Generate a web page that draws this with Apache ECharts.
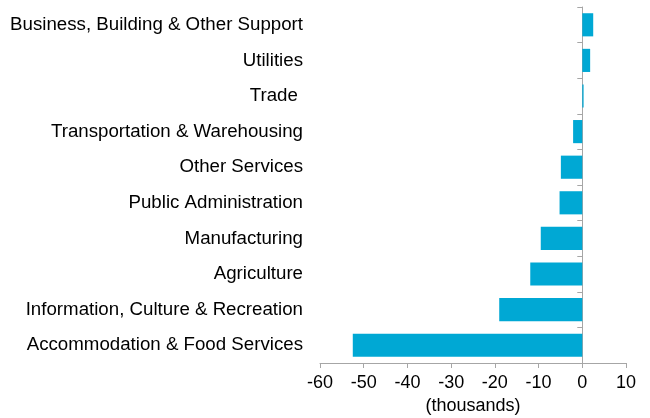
<!DOCTYPE html>
<html>
<head>
<meta charset="utf-8">
<script src="https://cdn.jsdelivr.net/npm/echarts@6/dist/echarts.min.js"></script>
<style>
  html, body { margin: 0; padding: 0; background: #fff; }
  #chart { width: 650px; height: 418px; }
</style>
</head>
<body>
<div id="chart"></div>
<script>
// categories, top to bottom
const industries = [
  'Business, Building & Other Support',
  'Utilities',
  'Trade ',
  'Transportation & Warehousing',
  'Other Services',
  'Public Administration',
  'Manufacturing',
  'Agriculture',
  'Information, Culture & Recreation',
  'Accommodation & Food Services'
];
// employment change (thousands)
const change = [2.5, 1.8, 0.3, -2.1, -4.9, -5.2, -9.5, -11.9, -19.0, -52.5];

const chart = echarts.init(document.getElementById('chart'));
const font = 'Arial, "Liberation Sans", sans-serif';
const axisGrey = '#a6a6a6';

let option = {
  animation: false,
  grid: { left: 320, right: 24, top: 7, bottom: 55, outerBoundsMode: 'none' },
  xAxis: {
    type: 'value',
    min: -60,
    max: 10,
    interval: 10,
    name: '(thousands)',
    nameLocation: 'middle',
    nameGap: 34,
    nameTextStyle: { fontSize: 18, color: '#000', fontFamily: font },
    axisLine: { show: true, lineStyle: { color: axisGrey } },
    axisTick: { show: true, length: 5, lineStyle: { color: axisGrey } },
    axisLabel: { fontSize: 18, color: '#000', fontFamily: font, margin: 11 },
    splitLine: { show: false }
  },
  yAxis: [
    {
      // labels on the left edge
      type: 'category',
      data: industries,
      inverse: true,
      position: 'left',
      axisLine: { show: false, onZero: false },
      axisTick: { show: false },
      axisLabel: { fontSize: 18.7, color: '#000', fontFamily: font, margin: 17 }
    },
    {
      // line and ticks at zero
      type: 'category',
      data: industries,
      inverse: true,
      position: 'left',
      axisLine: { show: true, onZero: true, lineStyle: { color: axisGrey } },
      axisTick: { show: true, length: 5, lineStyle: { color: axisGrey } },
      axisLabel: { show: false }
    }
  ],
  series: [
    {
      type: 'bar',
      data: change,
      yAxisIndex: 0,
      barWidth: '65%',
      itemStyle: { color: '#00a8d4' }
    }
  ]
};
chart.setOption(option);
</script>
</body>
</html>
